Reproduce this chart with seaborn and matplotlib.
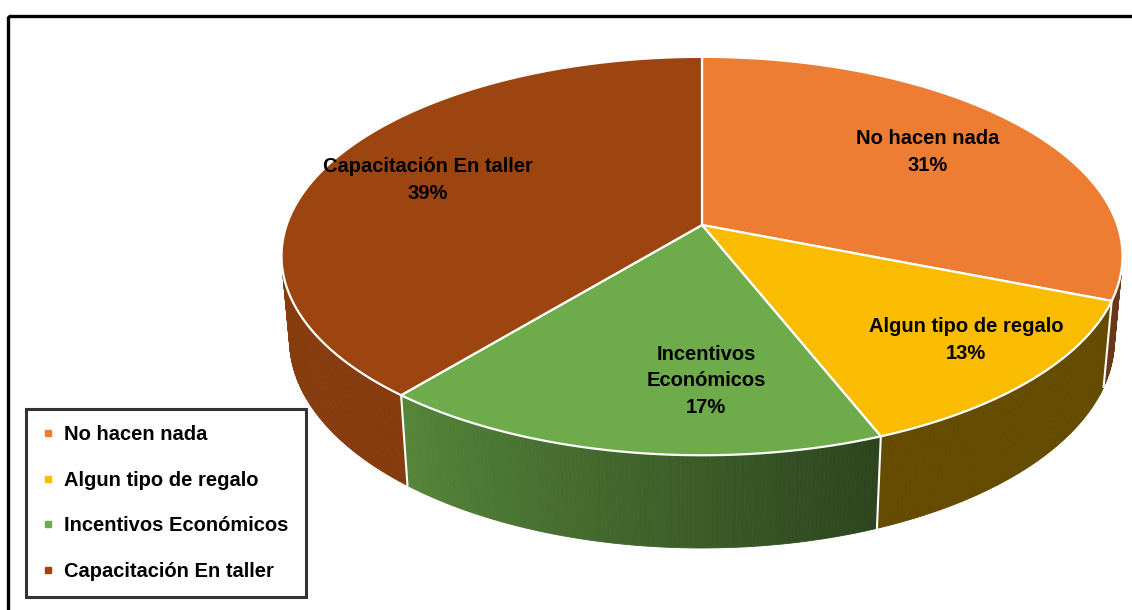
import numpy as np
import matplotlib
matplotlib.use("Agg")
import matplotlib.pyplot as plt
import seaborn as sns
from matplotlib.patches import Polygon, Rectangle
from matplotlib.lines import Line2D
from matplotlib.colors import to_rgb
from matplotlib import font_manager

# ---- data -------------------------------------------------------------
categories = ["No hacen nada", "Algun tipo de regalo",
              "Incentivos Económicos", "Capacitación En taller"]
shares = [31, 13, 17, 39]                       # percent
slice_labels = ["No hacen nada", "Algun tipo de regalo",
                "Incentivos\nEconómicos", "Capacitación En taller"]

# ---- style ------------------------------------------------------------
slice_colors = ["#EC7D33", "#FABC00", "#6EAB4A", "#9C4510"]
# side-wall shading (value at clockwise end, value at counter-clockwise end)
side_shade = [(0.45, 0.45), (0.40, 0.40), (0.40, 0.78), (0.86, 0.88)]
label_xy = [(928, 152), (966, 340), (706, 381), (428, 180)]

sns.set_style("white")
installed = {f.name for f in font_manager.fontManager.ttflist}
family = [f for f in ["Liberation Sans Narrow", "Liberation Sans", "DejaVu Sans"]
          if f in installed]
plt.rcParams["font.family"] = family
FS = 14.5
FONT = dict(fontsize=FS, fontweight="bold", color="black")

# ---- perspective camera for a 3D pie ---------------------------------
CX, CY = 702.0, 225.0      # screen position of the pie centre (pixels)
FOCAL = 2355.0
DIST = 5.67
ELEV = np.radians(27.9)
DEPTH = 0.23               # thickness of the pie


def project(theta, r, z):
    """theta measured clockwise from the far side of the pie."""
    X = r * np.sin(theta)
    Y = r * np.cos(theta)
    v = Y * np.sin(ELEV) + z * np.cos(ELEV)
    w = Y * np.cos(ELEV) - z * np.sin(ELEV) + DIST
    return CX + FOCAL * X / w, CY - FOCAL * v / w


fig = plt.figure(figsize=(11.32, 6.10), dpi=100)
ax = fig.add_axes([0, 0, 1, 1])
ax.set_xlim(0, 1132)
ax.set_ylim(610, 0)
ax.axis("off")

frac = np.array(shares, dtype=float) / np.sum(shares)
edges = 2 * np.pi * np.concatenate([[0], np.cumsum(frac)])

# visible part of the outer wall (faces toward the camera)
t_sil = np.arccos(-1.0 / (DIST * np.cos(ELEV)))
vis_lo, vis_hi = t_sil, 2 * np.pi - t_sil

# side walls
for i, (t0, t1) in enumerate(zip(edges[:-1], edges[1:])):
    a, b = max(t0, vis_lo), min(t1, vis_hi)
    if a >= b:
        continue
    base = np.array(to_rgb(slice_colors[i]))
    s0, s1 = side_shade[i]
    n = max(int((b - a) / np.radians(0.5)), 2)
    ts = np.linspace(a, b, n + 1)
    for k in range(n):
        ta, tb = ts[k], ts[k + 1]
        frac_k = ((ta + tb) / 2 - t0) / (t1 - t0)
        col = np.clip(base * (s0 + (s1 - s0) * frac_k), 0, 1)
        pts = [project(ta, 1, 0), project(tb, 1, 0),
               project(tb, 1, -DEPTH), project(ta, 1, -DEPTH)]
        ax.add_patch(Polygon(pts, closed=True, facecolor=col,
                             edgecolor=col, linewidth=0.6, zorder=1))

# white seams between slices on the wall
for t in edges[1:-1]:
    if vis_lo < t < vis_hi:
        p0, p1 = project(t, 1, 0), project(t, 1, -DEPTH)
        ax.plot([p0[0], p1[0]], [p0[1], p1[1]], color="white", lw=1.5, zorder=2)

# top faces
for i, (t0, t1) in enumerate(zip(edges[:-1], edges[1:])):
    ts = np.linspace(t0, t1, 200)
    arc = [project(t, 1, 0) for t in ts]
    pts = [project(0, 0, 0)] + arc
    ax.add_patch(Polygon(pts, closed=True, facecolor=slice_colors[i],
                         edgecolor="white", linewidth=1.6,
                         joinstyle="round", zorder=3))

# data labels
for txt, pct, (x, y) in zip(slice_labels, shares, label_xy):
    ax.text(x, y, f"{txt}\n{pct}%", ha="center", va="center",
            linespacing=1.5, zorder=5, **FONT)

# outer frame
ax.add_patch(Rectangle((8, 16), 1300, 800, fill=False, edgecolor="black",
                       linewidth=2.4, zorder=6))

# legend
handles = [Line2D([], [], marker="s", linestyle="none", markersize=5,
                  markerfacecolor=c, markeredgecolor=c) for c in slice_colors]
leg = fig.legend(handles, categories, loc="upper left",
                 bbox_to_anchor=(26 / 1132, 1 - 409 / 610, 280 / 1132, 0.0),
                 mode="expand", borderaxespad=0, frameon=True, fancybox=False,
                 edgecolor="black", handlelength=0.6, handletextpad=0.5,
                 labelspacing=1.32, borderpad=0.8, labelcolor="black",
                 prop=dict(size=FS, weight="bold"))
leg.get_frame().set_linewidth(2.2)

fig.savefig("out.png", dpi=100, facecolor="white")
